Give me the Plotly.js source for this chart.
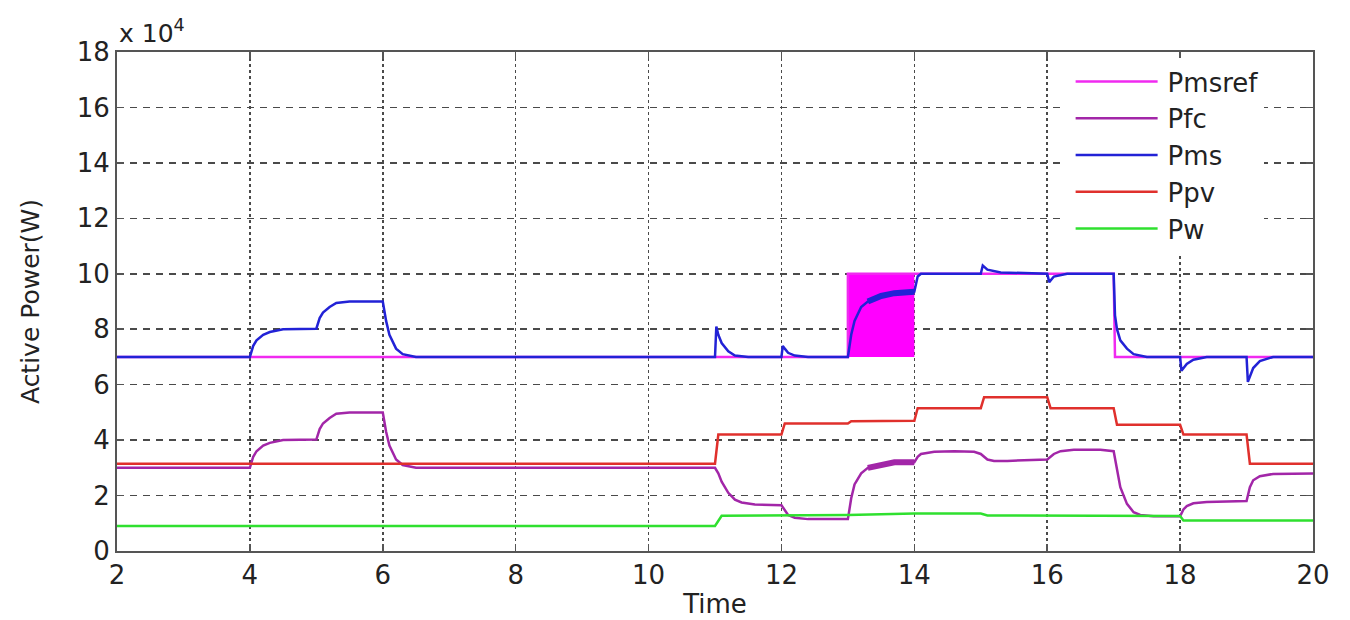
<!DOCTYPE html>
<html>
<head>
<meta charset="utf-8">
<script src="https://cdn.plot.ly/plotly-3.0.1.min.js"></script>
<style>
  html, body { margin: 0; padding: 0; background: #fff; }
  #chart { width: 1350px; height: 620px; }
</style>
</head>
<body>
<div id="chart"></div>
<script>
// Values in units of 10^4 W, time in s
const seriesNames = ["Pmsref", "Pfc", "Pms", "Ppv", "Pw"];

const pmsrefX = [2, 13, 13, 14, 17, 17.02, 20];
const pmsrefY = [7, 7, 10, 10, 10, 7, 7];
// oscillation band of Pmsref between 13 s and 14 s
const pmsrefBandX = [13, 13, 14, 14, 13];
const pmsrefBandY = [7, 10, 10, 7, 7];

const pfcX = [2, 4, 4.05, 4.1, 4.2, 4.3, 4.5, 5, 5.05, 5.1, 5.2, 5.3, 5.5, 6, 6.05, 6.1, 6.2, 6.3, 6.5,
  11, 11.05, 11.1, 11.2, 11.3, 11.4, 11.6, 12, 12.05, 12.1, 12.2, 12.4, 13, 13.05, 13.1, 13.2, 13.3, 13.5, 13.7, 13.9, 14,
  14.05, 14.1, 14.3, 14.6, 14.9, 15, 15.1, 15.2, 15.4, 16, 16.1, 16.2, 16.4, 16.8, 17, 17.05, 17.1, 17.2, 17.3, 17.4, 17.6,
  18, 18.05, 18.1, 18.2, 18.4, 19, 19.05, 19.1, 19.2, 19.4, 20];
const pfcY = [3, 3, 3.4, 3.6, 3.8, 3.9, 4, 4.02, 4.4, 4.6, 4.8, 4.95, 5, 5, 4.3, 3.8, 3.3, 3.1, 3,
  3, 2.8, 2.5, 2.1, 1.85, 1.75, 1.68, 1.65, 1.45, 1.3, 1.2, 1.15, 1.15, 1.9, 2.4, 2.8, 3.0, 3.1, 3.2, 3.2, 3.2,
  3.4, 3.5, 3.58, 3.6, 3.58, 3.5, 3.3, 3.25, 3.25, 3.3, 3.5, 3.6, 3.65, 3.65, 3.6, 3.0, 2.3, 1.7, 1.4, 1.3, 1.25,
  1.25, 1.5, 1.62, 1.72, 1.77, 1.8, 2.3, 2.55, 2.7, 2.78, 2.8];
// noisy part of Pfc (13.3 s - 14 s)
const pfcNoiseX = [13.3, 13.5, 13.7, 13.9, 14];
const pfcNoiseY = [3.0, 3.1, 3.2, 3.2, 3.2];

const pmsX = [2, 4, 4.05, 4.1, 4.2, 4.3, 4.5, 5, 5.05, 5.1, 5.2, 5.3, 5.5, 6, 6.05, 6.1, 6.2, 6.3, 6.5,
  11, 11.02, 11.05, 11.1, 11.2, 11.3, 11.5, 12, 12.02, 12.05, 12.1, 12.2, 12.4,
  13, 13.05, 13.1, 13.2, 13.3, 13.5, 13.7, 13.9, 14, 14.05, 14.1, 14.2,
  15, 15.03, 15.1, 15.3, 16, 16.03, 16.1, 16.3, 17, 17.02, 17.05, 17.1, 17.2, 17.3, 17.5,
  18, 18.02, 18.1, 18.2, 18.4, 19, 19.02, 19.1, 19.2, 19.4, 20];
const pmsY = [7, 7, 7.4, 7.6, 7.8, 7.9, 8, 8.02, 8.4, 8.6, 8.8, 8.95, 9, 9, 8.3, 7.8, 7.3, 7.1, 7,
  7, 8.1, 7.8, 7.5, 7.2, 7.05, 7, 7, 7.4, 7.3, 7.15, 7.05, 7,
  7, 7.8, 8.3, 8.8, 9.0, 9.2, 9.3, 9.3, 9.35, 9.9, 10, 10,
  10, 10.3, 10.15, 10.05, 10, 9.7, 9.9, 10, 10, 8.5, 8.0, 7.6, 7.3, 7.1, 7,
  7, 6.5, 6.75, 6.9, 7, 7, 6.1, 6.6, 6.85, 7, 7];
// noisy part of Pms (13.3 s - 14 s)
const pmsNoiseX = [13.3, 13.5, 13.7, 13.9, 14];
const pmsNoiseY = [9.0, 9.2, 9.3, 9.3, 9.35];

const ppvX = [2, 11, 11.05, 12, 12.05, 13, 13.05, 14, 14.05, 15, 15.05, 16, 16.05, 17, 17.05, 18, 18.05, 19, 19.05, 20];
const ppvY = [3.15, 3.15, 4.2, 4.2, 4.6, 4.6, 4.68, 4.7, 5.15, 5.15, 5.55, 5.55, 5.15, 5.15, 4.55, 4.55, 4.2, 4.2, 3.15, 3.15];

const pwX = [2, 11, 11.1, 12, 13, 14, 15, 15.1, 18, 18.05, 20];
const pwY = [0.9, 0.9, 1.27, 1.28, 1.3, 1.35, 1.35, 1.28, 1.26, 1.1, 1.1];

const xTicks = [2, 4, 6, 8, 10, 12, 14, 16, 18, 20];
const yTicks = [0, 2, 4, 6, 8, 10, 12, 14, 16, 18];

const colors = { Pmsref: "#f02af0", band: "#ff00ff", Pfc: "#a226a8", Pms: "#2222d6", Ppv: "#e0302c", Pw: "#2fe02f" };
const FONT = "DejaVu Sans, Arial, sans-serif";
const TXT = "#222222";

const traces = [
  { x: pmsrefBandX, y: pmsrefBandY, type: "scatter", mode: "lines", fill: "toself",
    fillcolor: colors.band, line: { width: 0, color: colors.band }, showlegend: false, hoverinfo: "skip" },
  { x: pmsrefX, y: pmsrefY, name: seriesNames[0], type: "scatter", mode: "lines",
    line: { color: colors.Pmsref, width: 2.5 } },
  { x: pfcX, y: pfcY, name: seriesNames[1], type: "scatter", mode: "lines",
    line: { color: colors.Pfc, width: 2.5 } },
  { x: pfcNoiseX, y: pfcNoiseY, type: "scatter", mode: "lines", showlegend: false,
    line: { color: colors.Pfc, width: 6 } },
  { x: pmsX, y: pmsY, name: seriesNames[2], type: "scatter", mode: "lines",
    line: { color: colors.Pms, width: 2.5 } },
  { x: pmsNoiseX, y: pmsNoiseY, type: "scatter", mode: "lines", showlegend: false,
    line: { color: colors.Pms, width: 6 } },
  { x: ppvX, y: ppvY, name: seriesNames[3], type: "scatter", mode: "lines",
    line: { color: colors.Ppv, width: 2.5 } },
  { x: pwX, y: pwY, name: seriesNames[4], type: "scatter", mode: "lines",
    line: { color: colors.Pw, width: 2.5 } }
];

const axisCommon = {
  showline: true, mirror: "ticks", linecolor: "#555", linewidth: 2,
  ticks: "inside", ticklen: 7, tickwidth: 1.5, tickcolor: "#555",
  showgrid: true, gridcolor: "#4a4a4a", gridwidth: 1.5,
  zeroline: false, tickfont: { family: FONT, size: 26, color: TXT }
};

const layout = {
  width: 1350, height: 620,
  margin: { l: 117, r: 37, t: 52, b: 69 },
  paper_bgcolor: "#fff", plot_bgcolor: "#fff",
  showlegend: true,
  legend: {
    x: 0.845, xanchor: "left", y: 0.988, yanchor: "top",
    bgcolor: "#ffffff", borderwidth: 0,
    font: { family: FONT, size: 26, color: TXT },
    tracegroupgap: 0
  },
  xaxis: Object.assign({}, axisCommon, {
    range: [2, 20], tickvals: xTicks, ticktext: xTicks.map(String), griddash: "dot",
    title: { text: "Time", font: { family: FONT, size: 26, color: TXT }, standoff: 6 }
  }),
  yaxis: Object.assign({}, axisCommon, {
    range: [0, 18], tickvals: yTicks, ticktext: yTicks.map(String), griddash: "7px,6px",
    title: { text: "Active Power(W)", font: { family: FONT, size: 25, color: TXT }, standoff: 30 }
  }),
  annotations: [
    { xref: "paper", yref: "paper", x: 0, y: 1, xanchor: "left", yanchor: "bottom",
      text: "x 10<sup>4</sup>", showarrow: false, yshift: 2,
      font: { family: FONT, size: 25, color: TXT } }
  ]
};

function styleLegend() {
  const legend = document.querySelector("g.legend");
  if (!legend) return;
  // let the longer line samples show outside the legend's clip box
  legend.querySelectorAll("[clip-path]").forEach(function (e) {
    e.removeAttribute("clip-path");
  });
  // lengthen legend line samples to match the reference
  legend.querySelectorAll("path").forEach(function (p) {
    const d = p.getAttribute("d") || "";
    if (/^M5,0h30/.test(d) || p.classList.contains("js-line")) {
      p.setAttribute("d", "M-52,0h82");
    }
  });
  legend.querySelectorAll("rect.bg").forEach(function (r) {
    if (r.getAttribute("data-widened")) return;
    const x = parseFloat(r.getAttribute("x") || "0");
    const w = parseFloat(r.getAttribute("width") || "0");
    r.setAttribute("x", x - 62);
    r.setAttribute("width", w + 62);
    r.setAttribute("data-widened", "1");
  });
}

const gd = document.getElementById("chart");
Plotly.newPlot(gd, traces, layout, { staticPlot: true, displayModeBar: false }).then(function () {
  styleLegend();
  gd.on("plotly_afterplot", styleLegend);
  setTimeout(styleLegend, 50);
  setTimeout(styleLegend, 300);
});
</script>
</body>
</html>
